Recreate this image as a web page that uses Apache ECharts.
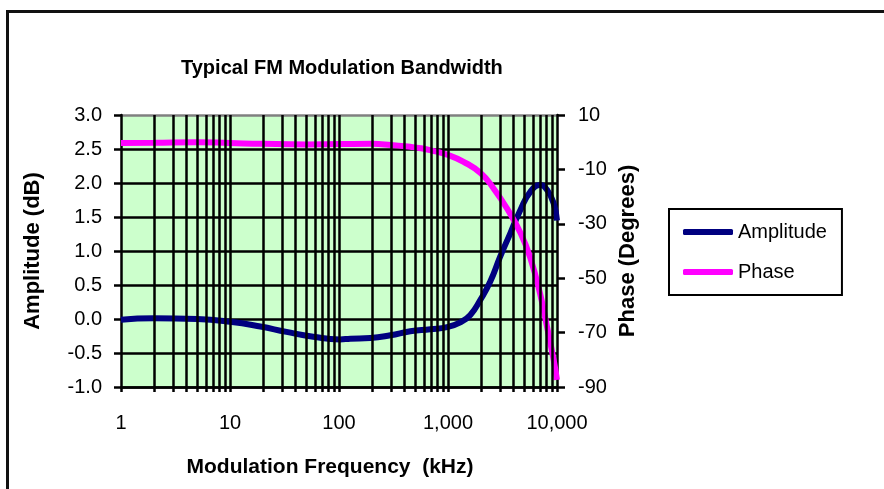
<!DOCTYPE html>
<html><head><meta charset="utf-8">
<script src="https://cdn.jsdelivr.net/npm/echarts@6/dist/echarts.min.js"></script>
<style>
html,body{margin:0;padding:0;background:#fff;}
#chart{position:absolute;left:0;top:0;width:884px;height:489px;}
#frame{position:absolute;left:6px;top:10px;width:900px;height:500px;border-left:3px solid #111;border-top:3px solid #111;pointer-events:none;}
</style></head><body>
<div id="chart"></div><div id="frame"></div>
<script>
// Data
const ampFreqKHz   = [1, 2, 5, 10, 19, 33, 58, 102, 127, 194, 296, 451, 689, 980, 1297, 1603, 1978, 2443, 3017, 3728, 4604, 5688, 7025, 8094, 9315, 10000];
const amplitudeDb  = [-0.01, 0.01, 0.0, -0.04, -0.11, -0.19, -0.26, -0.30, -0.29, -0.28, -0.24, -0.18, -0.15, -0.12, -0.05, 0.06, 0.28, 0.55, 0.92, 1.26, 1.60, 1.87, 1.97, 1.90, 1.70, 1.45];
const phaseFreqKHz = [1, 2, 5, 10, 20, 50, 100, 200, 300, 450, 560, 700, 1000, 1390, 2000, 2620, 3470, 4640, 5690, 7025, 8094, 9315, 10000];
const phaseDeg     = [-0.3, -0.2, 0.0, -0.3, -0.6, -0.8, -0.7, -0.6, -1.0, -1.7, -2.2, -3.0, -4.7, -7.2, -11.4, -17.0, -24.3, -33.5, -42.5, -56.0, -67.8, -80.0, -87.4];
const phaseTicks   = [-90, -70, -50, -30, -10, 10];
const freqTicks    = [1,2,3,4,5,6,7,8,9,10,20,30,40,50,60,70,80,90,100,200,300,400,500,600,700,800,900,1000,2000,3000,4000,5000,6000,7000,8000,9000,10000];
const freqGridLines = [2,3,4,5,6,7,8,9,10,20,30,40,50,60,70,80,90,100,200,300,400,500,600,700,800,900,1000,2000,3000,4000,5000,6000,7000,8000,9000];

const F = 'Liberation Sans, Arial, sans-serif';
const chart = echarts.init(document.getElementById('chart'));
const fmtThousands = v => String(Math.round(v)).replace(/\B(?=(\d{3})+(?!\d))/g, ',');
const GW = 2.5;

chart.setOption({
  animation: false,
  backgroundColor: '#fff',
  title: {
    text: 'Typical FM Modulation Bandwidth',
    left: 181, top: 58, padding: 0,
    textStyle: { fontFamily: F, fontSize: 20, fontWeight: 'bold', color: '#000' }
  },
  legend: {
    data: ['Amplitude', 'Phase'],
    orient: 'vertical', left: 669, top: 209,
    padding: [13, 15, 13, 14], itemGap: 20,
    itemWidth: 50, itemHeight: 6, icon: 'roundRect',
    borderColor: '#000', borderWidth: 2, borderRadius: 0, backgroundColor: '#fff',
    textStyle: { fontFamily: F, fontSize: 20, color: '#000' }
  },
  grid: { left: 121, right: 327, top: 115, bottom: 102, show: true, backgroundColor: '#ccffcc', borderWidth: 0, outerBoundsMode: 'none' },
  xAxis: {
    type: 'log', logBase: 10, min: 1, max: 10000,
    name: 'Modulation Frequency  (kHz)', nameLocation: 'middle', nameGap: 70,
    nameTextStyle: { fontFamily: F, fontSize: 21, fontWeight: 'bold', color: '#000', padding: [0, 18, 0, 0] },
    axisLine: { show: true, onZero: false, lineStyle: { color: '#000', width: GW } },
    axisTick: { show: true, length: 5, customValues: freqTicks, lineStyle: { color: '#000', width: GW } },
    axisLabel: { margin: 26, fontFamily: F, fontSize: 20, color: '#000', formatter: fmtThousands },
    splitLine: { show: false }
  },
  yAxis: [{
    type: 'value', position: 'left', min: -1, max: 3, interval: 0.5,
    name: 'Amplitude (dB)', nameLocation: 'middle', nameGap: 77, nameRotate: 90,
    nameTextStyle: { fontFamily: F, fontSize: 22, fontWeight: 'bold', color: '#000' },
    axisLine: { show: true, onZero: false, lineStyle: { color: '#000', width: GW } },
    axisTick: { show: true, length: 7, lineStyle: { color: '#000', width: GW } },
    axisLabel: { margin: 19, fontFamily: F, fontSize: 20, color: '#000', formatter: v => v.toFixed(1) },
    splitLine: { show: true, lineStyle: { color: ['#000','#000','#000','#000','#000','#000','#000','#000','#808080'], width: GW } }
  }, {
    type: 'value', position: 'right', min: -90, max: 10,
    name: 'Phase (Degrees)', nameLocation: 'middle', nameGap: 60, nameRotate: 90,
    nameTextStyle: { fontFamily: F, fontSize: 22, fontWeight: 'bold', color: '#000' },
    axisLine: { show: true, onZero: false, lineStyle: { color: '#000', width: GW } },
    axisTick: { show: true, length: 8, customValues: phaseTicks, lineStyle: { color: '#000', width: GW } },
    axisLabel: { margin: 21, fontFamily: F, fontSize: 20, color: '#000', customValues: phaseTicks },
    splitLine: { show: false }
  }],
  series: [{
    name: 'grid', type: 'line', data: [], z: 1, silent: true,
    markLine: {
      silent: true, symbol: ['none', 'none'], label: { show: false },
      lineStyle: { color: '#000', width: GW, type: 'solid' },
      emphasis: { disabled: true },
      data: freqGridLines.map(f => ({ xAxis: f }))
    }
  }, {
    name: 'Amplitude', type: 'line', yAxisIndex: 0, z: 3,
    data: ampFreqKHz.map((f, i) => [f, amplitudeDb[i]]),
    smooth: 0.5, symbol: 'none',
    lineStyle: { color: '#000080', width: 6 }, itemStyle: { color: '#000080' }
  }, {
    name: 'Phase', type: 'line', yAxisIndex: 1, z: 3,
    data: phaseFreqKHz.map((f, i) => [f, phaseDeg[i]]),
    smooth: 0.5, symbol: 'none',
    lineStyle: { color: '#ff00ff', width: 6 }, itemStyle: { color: '#ff00ff' }
  }]
});
</script></body></html>
